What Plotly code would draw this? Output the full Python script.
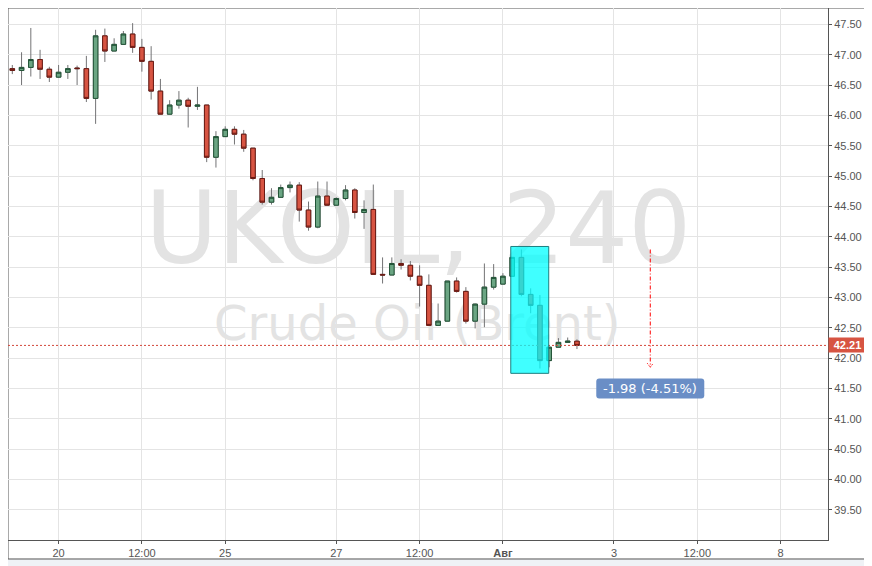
import plotly.graph_objects as go

# UKOIL 4h candles, 19 Jul 04:00 .. 2 Aug (weekends skipped, 6 bars a day)
opens = [46.77, 46.74, 46.79, 46.92, 46.76, 46.63, 46.71, 46.78, 46.77, 46.28,
         47.31, 47.06, 47.17, 47.34, 47.12, 46.89, 46.40, 46.02, 46.17, 46.25,
         46.15, 46.17, 45.31, 45.65, 45.77, 45.69, 45.46, 44.96, 44.57, 44.65,
         44.81, 44.85, 44.44, 44.16, 44.67, 44.52, 44.63, 44.77, 44.40, 44.45,
         43.38, 43.37, 43.56, 43.53, 43.35, 43.20, 42.54, 42.61, 43.27, 43.10,
         42.61, 42.89, 43.17, 43.22, 43.35, 43.66, 43.05, 42.87, 41.96, 42.18,
         42.26, 42.28]
highs = [46.83, 47.04, 47.44, 47.08, 46.80, 46.83, 46.83, 46.82, 46.98, 47.41,
         47.43, 47.27, 47.39, 47.52, 47.26, 47.14, 46.60, 46.25, 46.40, 46.29,
         46.47, 46.17, 45.74, 45.82, 45.82, 45.76, 45.46, 45.10, 44.80, 44.86,
         44.91, 44.90, 44.58, 44.91, 44.91, 44.65, 44.85, 44.80, 44.60, 44.86,
         43.66, 43.66, 43.63, 43.60, 43.53, 43.38, 42.90, 43.27, 43.33, 43.17,
         42.90, 43.56, 43.55, 43.40, 43.66, 43.79, 43.15, 43.04, 42.18, 42.33,
         42.34, 42.31]
lows = [46.68, 46.50, 46.64, 46.60, 46.55, 46.62, 46.60, 46.50, 46.22, 45.86,
        46.88, 47.06, 47.17, 47.03, 46.72, 46.26, 46.02, 46.02, 46.11, 45.80,
        46.09, 45.23, 45.14, 45.65, 45.52, 45.40, 44.93, 44.53, 44.53, 44.65,
        44.73, 44.25, 44.10, 44.14, 44.51, 44.52, 44.60, 44.30, 44.13, 43.38,
        43.23, 43.37, 43.46, 43.28, 42.85, 42.54, 42.54, 42.61, 43.08, 42.57,
        42.49, 42.51, 43.13, 43.22, 43.35, 43.02, 42.74, 41.83, 41.85, 42.18,
        42.25, 42.15]
closes = [46.74, 46.79, 46.92, 46.76, 46.63, 46.71, 46.77, 46.77, 46.28, 47.31,
          47.06, 47.17, 47.34, 47.12, 46.89, 46.40, 46.02, 46.17, 46.25, 46.15,
          46.17, 45.31, 45.65, 45.77, 45.69, 45.46, 44.96, 44.57, 44.65, 44.81,
          44.85, 44.44, 44.16, 44.67, 44.52, 44.63, 44.77, 44.40, 44.45, 43.38,
          43.37, 43.56, 43.53, 43.35, 43.20, 42.54, 42.61, 43.27, 43.10, 42.61,
          42.89, 43.17, 43.33, 43.35, 43.66, 43.05, 42.87, 41.96, 42.18, 42.26,
          42.28, 42.21]

tick_pos = [5, 14, 23, 35, 44, 53, 65, 74, 83]
tick_text = ["20", "12:00", "25", "27", "12:00", "<b>Авг</b>", "3", "12:00", "8"]
y_ticks = [39.5 + 0.5 * k for k in range(17)]
y_text = ["%.2f" % v for v in y_ticks]

# drawing tool: highlight box and measure arrow (bar index / price)
box_x = [53.85, 57.95]
box_y = [41.75, 43.84]
measure_x = 68.92
measure_y = [43.79, 41.85]
measure_label = "-1.98 (-4.51%)"
measure_label_y = 41.50

x = list(range(len(opens)))
body_hi = [max(o, c) for o, c in zip(opens, closes)]
body_lo = [min(o, c) for o, c in zip(opens, closes)]

GREEN = "#6ba583"
GREEN_EDGE = "#225437"
RED = "#d75442"
RED_EDGE = "#6b1a13"
WICK = "#737375"
FONT = "Liberation Sans"
X_RANGE = [-0.465, 88.12]
Y_RANGE = [39.004, 47.769]

fig = go.Figure()

# watermark on the base axes, candles go on an overlaid pair so they sit on top
fig.add_trace(go.Scatter(
    x=[43.85, 43.75], y=[43.975, 42.505], mode="text",
    text=["UKOIL, 240", "Crude Oil (Brent)"],
    textfont=dict(family="DejaVu Sans", size=[99, 48], color="#e3e3e3"),
    hoverinfo="skip", showlegend=False))

# wicks
fig.add_trace(go.Candlestick(
    x=x, open=opens, high=highs, low=lows, close=closes,
    xaxis="x2", yaxis="y2",
    increasing=dict(line=dict(color=WICK, width=1), fillcolor=GREEN),
    decreasing=dict(line=dict(color=WICK, width=1), fillcolor=RED),
    showlegend=False, hoverinfo="skip"))

# bodies with dark outline
fig.add_trace(go.Candlestick(
    x=x, open=opens, high=body_hi, low=body_lo, close=closes,
    xaxis="x2", yaxis="y2",
    increasing=dict(line=dict(color=GREEN_EDGE, width=1), fillcolor=GREEN),
    decreasing=dict(line=dict(color=RED_EDGE, width=1), fillcolor=RED),
    showlegend=False))

last = closes[-1]

shapes = [
    # outer frame
    dict(type="rect", xref="paper", yref="paper", x0=0, x1=1.0451, y0=-0.0357, y1=1,
         fillcolor="white", line=dict(color="#555555", width=1), layer="below"),
    # last price line
    dict(type="line", xref="paper", yref="y", x0=0, x1=1, y0=last, y1=last,
         line=dict(color="#d2473a", width=1, dash="2px,2px")),
    # highlight box
    dict(type="rect", xref="x", yref="y", x0=box_x[0], x1=box_x[1], y0=box_y[0], y1=box_y[1],
         fillcolor="rgba(0,255,255,0.75)", line=dict(color="#1d7f80", width=1)),
    # measure arrow
    dict(type="line", xref="x", yref="y", x0=measure_x, x1=measure_x,
         y0=measure_y[0], y1=measure_y[1],
         line=dict(color="#ff0000", width=1, dash="4px,2px,1px,2px")),
    dict(type="path", xref="x", yref="y", xsizemode="pixel", ysizemode="pixel",
         xanchor=measure_x, yanchor=measure_y[1],
         path="M -3 4 L 0 0 L 3 4", line=dict(color="#ff0000", width=1, dash="1px,1px")),
    # measure label background
    dict(type="path", xref="x", yref="y", xsizemode="pixel", ysizemode="pixel",
         xanchor=measure_x, yanchor=measure_label_y,
         path="M -51 -10 L 51 -10 Q 54 -10 54 -7 L 54 7 Q 54 10 51 10 L -51 10 "
              "Q -54 10 -54 7 L -54 -7 Q -54 -10 -51 -10 Z",
         fillcolor="#6a8ec6", line=dict(width=0)),
]

annotations = [
    dict(x=measure_x, y=measure_label_y, xref="x", yref="y", text=measure_label,
         showarrow=False, font=dict(family="DejaVu Sans", size=13, color="white")),
    dict(x=1, y=last, xref="paper", yref="y", xanchor="left", yanchor="middle",
         text="<b>%.2f</b>" % last, showarrow=False, width=37, height=14,
         bgcolor=RED, borderpad=0, font=dict(family=FONT, size=11, color="white")),
]

# page body adds an 8px offset, so the figure is 8px smaller each way
fig.update_layout(
    width=864, height=558,
    margin=dict(l=0, r=44, t=0, b=26),
    paper_bgcolor="#eff2f6", plot_bgcolor="white",
    shapes=shapes, annotations=annotations,
    showlegend=False,
    font=dict(family=FONT, size=11, color="#555555"),
    xaxis=dict(range=X_RANGE, tickvals=tick_pos, ticktext=tick_text,
               showgrid=True, gridcolor="#e4e4e4", gridwidth=1, zeroline=False,
               showline=True, linecolor="#555555", linewidth=1,
               ticks="outside", ticklen=3, tickcolor="#555555",
               rangeslider=dict(visible=False)),
    yaxis=dict(range=Y_RANGE, side="right", tickvals=y_ticks, ticktext=y_text,
               showgrid=True, gridcolor="#e4e4e4", gridwidth=1,
               zeroline=False, showline=True, linecolor="#555555", linewidth=1,
               ticks="outside", ticklen=3, tickcolor="#555555"),
    xaxis2=dict(overlaying="x", range=X_RANGE, visible=False,
                rangeslider=dict(visible=False)),
    yaxis2=dict(overlaying="y", range=Y_RANGE, visible=False),
)

fig.write_html("out.html")
